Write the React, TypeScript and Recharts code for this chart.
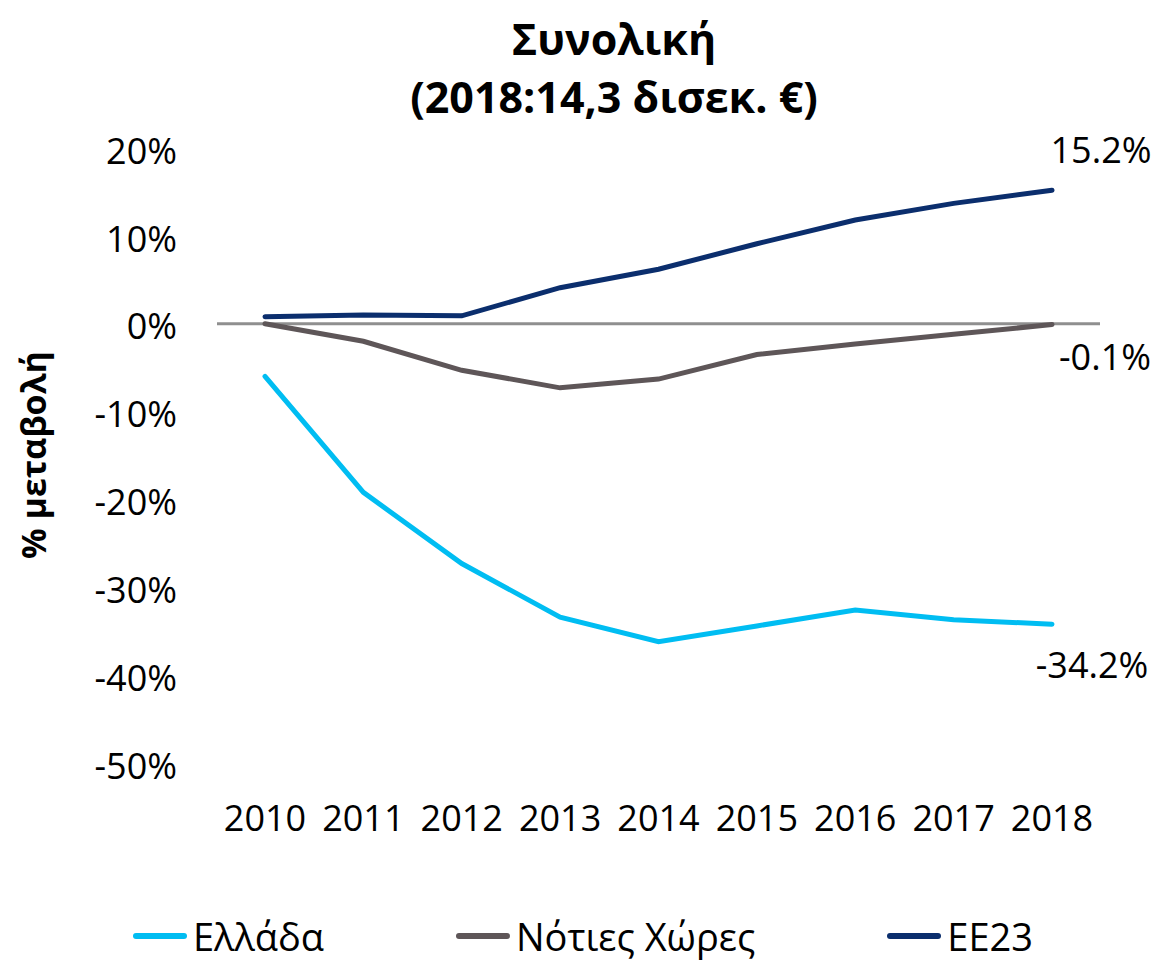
import React from "react";
import {
  LineChart,
  Line,
  XAxis,
  YAxis,
  ReferenceLine,
  Legend,
  LabelList,
} from "recharts";

const years = ["2010", "2011", "2012", "2013", "2014", "2015", "2016", "2017", "2018"];
const greece = [-6.0, -19.2, -27.3, -33.4, -36.2, -34.4, -32.6, -33.7, -34.2];
const south = [0.0, -2.0, -5.3, -7.3, -6.3, -3.5, -2.3, -1.2, -0.1];
const eu23 = [0.8, 1.0, 0.9, 4.1, 6.2, 9.1, 11.8, 13.7, 15.2];
const yTicks = [20, 10, 0, -10, -20, -30, -40, -50];

const series = [
  { key: "greece", name: "Ελλάδα", color: "#00bdf2", labelDx: 40, labelDy: 40 },
  { key: "south", name: "Νότιες Χώρες", color: "#5e5658", labelDx: 53, labelDy: 32 },
  { key: "eu23", name: "ΕΕ23", color: "#0b2e6d", labelDx: 49, labelDy: -41 },
];

const data = years.map((year, i) => ({
  year,
  greece: greece[i],
  south: south[i],
  eu23: eu23[i],
}));

const FONT = "'Open Sans', sans-serif";

function endLabel(dx: number, dy: number) {
  return (props: any) => {
    const { x, y, value, index } = props;
    if (index !== years.length - 1) return null;
    return (
      <text
        x={Number(x) + dx}
        y={Number(y) + dy}
        textAnchor="middle"
        dominantBaseline="central"
        fontSize={36}
        fontFamily={FONT}
        fill="#000"
      >
        {Number(value).toFixed(1)}%
      </text>
    );
  };
}

function LegendBox() {
  return (
    <div
      style={{
        display: "flex",
        justifyContent: "center",
        gap: 132,
        fontFamily: FONT,
        fontSize: 38,
        color: "#000",
        paddingTop: 8,
        paddingLeft: 66,
      }}
    >
      {series.map((s) => (
        <div key={s.key} style={{ display: "flex", alignItems: "center" }}>
          <span
            style={{
              display: "inline-block",
              width: 54,
              height: 6,
              borderRadius: 3,
              background: s.color,
              marginRight: 6,
            }}
          />
          <span>{s.name}</span>
        </div>
      ))}
    </div>
  );
}

export default function App() {
  return (
    <div style={{ position: "absolute", left: 0, top: 0, width: 1163, height: 962, background: "#fff" }}>
      <div
        style={{
          position: "absolute",
          left: 614,
          top: 10,
          transform: "translateX(-50%)",
          whiteSpace: "nowrap",
          textAlign: "center",
          fontFamily: FONT,
          fontWeight: 700,
          fontSize: 43,
          lineHeight: "58px",
          color: "#000",
        }}
      >
        <div>Συνολική</div>
        <div>(2018:14,3 δισεκ. €)</div>
      </div>
      <LineChart
        width={1163}
        height={962}
        data={data}
        margin={{ top: 148, right: 63, left: 0, bottom: 0 }}
      >
        <XAxis
          dataKey="year"
          axisLine={false}
          tickLine={false}
          tickSize={0}
          tickMargin={42}
          height={139}
          padding={{ left: 48, right: 48 }}
          tick={{ fill: "#000", fontSize: 36, fontFamily: FONT }}
        />
        <YAxis
          type="number"
          domain={[-50, 20]}
          ticks={yTicks}
          axisLine={false}
          tickLine={false}
          tickSize={0}
          tickMargin={40}
          width={217}
          tickFormatter={(v) => `${v}%`}
          tick={{ fill: "#000", fontSize: 36, fontFamily: FONT, dy: 3 }}
          label={(props: any) => (
            <text
              x={33}
              y={455}
              transform="rotate(-90 33 455)"
              textAnchor="middle"
              dominantBaseline="central"
              fontSize={34}
              fontWeight={700}
              fontFamily={FONT}
              fill="#000"
            >
              % μεταβολή
            </text>
          )}
        />
        <ReferenceLine y={0} stroke="#8f8f8f" strokeWidth={3} />
        {series.map((s) => (
          <Line
            key={s.key}
            type="linear"
            dataKey={s.key}
            name={s.name}
            stroke={s.color}
            strokeWidth={5}
            strokeLinecap="round"
            dot={false}
            activeDot={false}
            isAnimationActive={false}
          >
            <LabelList dataKey={s.key} content={endLabel(s.labelDx, s.labelDy)} />
          </Line>
        ))}
        <Legend verticalAlign="bottom" height={60} content={() => <LegendBox />} />
      </LineChart>
    </div>
  );
}
